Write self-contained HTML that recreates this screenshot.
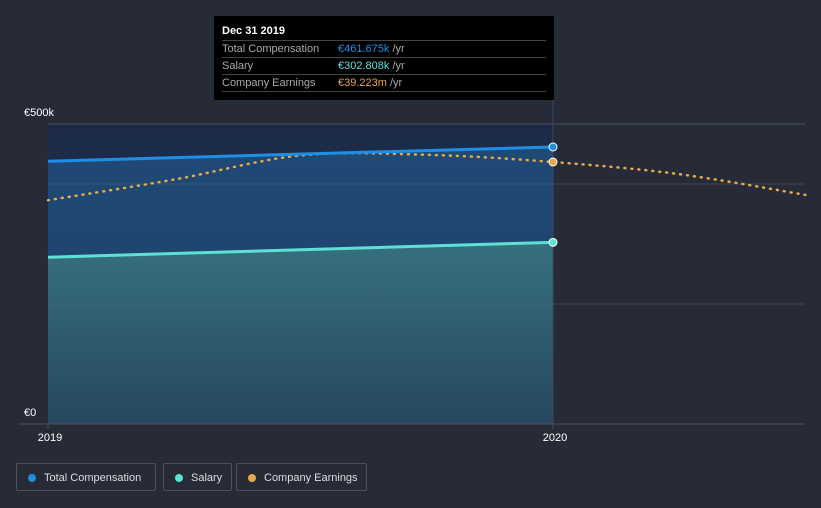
<!DOCTYPE html>
<html><head><meta charset="utf-8"><style>
body{margin:0;background:#262b37;width:821px;height:508px;overflow:hidden;font-family:"Liberation Sans",sans-serif}
svg{position:absolute;left:0;top:0}
.tt{position:absolute;left:214px;top:16px;width:340px;height:84px;background:#000;color:#fff;font-size:11px}
.tt .h{font-weight:bold;position:absolute;left:8px;top:9px}
.row{position:absolute;left:8px;width:324px;border-top:1px solid #444;height:16px;line-height:16px;color:#aaa}
.row span.v{position:absolute;left:116px}
.legend{position:absolute;top:463px;height:28px;border:1px solid #4a505c;border-radius:2px;color:#ddd;font-size:11px;line-height:28px;box-sizing:border-box;padding-left:27px}
.legend i{position:absolute;left:11px;top:10px;width:8px;height:8px;border-radius:50%}
</style></head><body>
<svg width="821" height="508">
<defs>
<linearGradient id="hl" x1="0" y1="0" x2="0" y2="1"><stop offset="0" stop-color="#1c2a45"/><stop offset="1" stop-color="#1f3b60"/></linearGradient>
<linearGradient id="tc" x1="0" y1="0" x2="0" y2="1"><stop offset="0" stop-color="#1f4a75"/><stop offset="1" stop-color="#1d3e66"/></linearGradient>
<linearGradient id="sa" x1="0" y1="0" x2="0" y2="1"><stop offset="0" stop-color="#37707f"/><stop offset="1" stop-color="#26475f"/></linearGradient>
</defs>
<g id="g"></g>
</svg>
<div class="tt">
<div class="h">Dec 31 2019</div>
<div class="row" style="top:24px">Total Compensation<span class="v"><b style="color:#1f8ee6;font-weight:normal">€461.675k</b> /yr</span></div>
<div class="row" style="top:41px">Salary<span class="v"><b style="color:#5fe0d4;font-weight:normal">€302.808k</b> /yr</span></div>
<div class="row" style="top:58px;border-bottom:1px solid #444">Company Earnings<span class="v"><b style="color:#e8a94c;font-weight:normal">€39.223m</b> /yr</span></div>
</div>
<div class="legend" style="left:16px;width:140px"><i style="background:#1f8ee6"></i>Total Compensation</div>
<div class="legend" style="left:163px;width:69px"><i style="background:#5fe0d4"></i>Salary</div>
<div class="legend" style="left:236px;width:131px"><i style="background:#e8a94c"></i>Company Earnings</div>
<script>
const years=[2019,2020];
const totalComp=[438,461.675];
const salary=[278,302.808];
const earnYears=[2019,2019.25,2019.5,2019.75,2020,2020.25,2020.5];
const earnings=[33.5,36.6,40.2,40.3,39.223,37.4,34.3];
const yTicks=[0,500];
const yTickLabels=["€0","€500k"];
const xTickLabels=["2019","2020"];
const L=48,R=805,T=124,B=424;
const x=v=>L+(v-2019)*505;
const y=v=>B-v*0.6;
const ye=v=>B-v*(262/39.223);
const g=document.getElementById('g');
const ns='http://www.w3.org/2000/svg';
function mk(t,a,p){const e=document.createElementNS(ns,t);for(const k in a)e.setAttribute(k,a[k]);(p||g).appendChild(e);return e;}
let e;
e=mk('rect',{x:L,y:T,width:x(2020)-L,height:B-T,fill:'url(#hl)'});


e=mk('polygon',{points:`${x(years[0])},${y(totalComp[0])} ${x(years[1])},${y(totalComp[1])} ${x(years[1])},${B} ${x(years[0])},${B}`,fill:'url(#tc)'});


e=mk('polygon',{points:`${x(years[0])},${y(salary[0])} ${x(years[1])},${y(salary[1])} ${x(years[1])},${B} ${x(years[0])},${B}`,fill:'url(#sa)'});


[184,304].forEach(gy=>{e=mk('line',{x1:L,x2:R,y1:gy,y2:gy,stroke:'#5a6478','stroke-opacity':0.5});

});
e=mk('line',{x1:L,x2:R,y1:T,y2:T,stroke:'#4a505c'});


e=mk('line',{x1:L-30,x2:R,y1:B,y2:B,stroke:'#4a505c'});


e=mk('line',{x1:x(2020),x2:x(2020),y1:100,y2:B,stroke:'#3a4a66'});


const ep=earnYears.map((v,i)=>[x(v),ye(earnings[i])]);
let d=`M${ep[0][0]},${ep[0][1]}`;
for(let i=0;i<ep.length-1;i++){const p0=ep[i-1]||ep[i],p1=ep[i],p2=ep[i+1],p3=ep[i+2]||p2;
d+=` C${p1[0]+(p2[0]-p0[0])/6},${p1[1]+(p2[1]-p0[1])/6} ${p2[0]-(p3[0]-p1[0])/6},${p2[1]-(p3[1]-p1[1])/6} ${p2[0]},${p2[1]}`;}
e=mk('path',{d,fill:'none',stroke:'#e8a94c','stroke-width':2.5,'stroke-dasharray':'1 6','stroke-linecap':'round'});


e=mk('line',{x1:x(years[0]),y1:y(totalComp[0]),x2:x(years[1]),y2:y(totalComp[1]),stroke:'#1f8ee6','stroke-width':3});


e=mk('line',{x1:x(years[0]),y1:y(salary[0]),x2:x(years[1]),y2:y(salary[1]),stroke:'#5fe0d4','stroke-width':3});


[[y(totalComp[1]),'#1f8ee6','total-compensation-point'],[y(salary[1]),'#5fe0d4','salary-point'],[ye(earnings[4]),'#e8a94c','company-earnings-point']].forEach(a=>{
e=mk('circle',{cx:x(2020),cy:a[0],r:4,fill:a[1],stroke:'#fff','stroke-width':1});

});
yTicks.forEach((v,i)=>{e=mk('text',{x:24,y:y(v)-8,fill:'#fff','font-size':11});e.textContent=yTickLabels[i];

});
years.forEach((v,i)=>{e=mk('text',{x:x(v)+2,y:441,fill:'#fff','font-size':11,'text-anchor':'middle'});e.textContent=xTickLabels[i];


e=mk('line',{x1:x(v),x2:x(v),y1:B,y2:B+5,stroke:'#4a505c'});

});
</script>
</body></html>
